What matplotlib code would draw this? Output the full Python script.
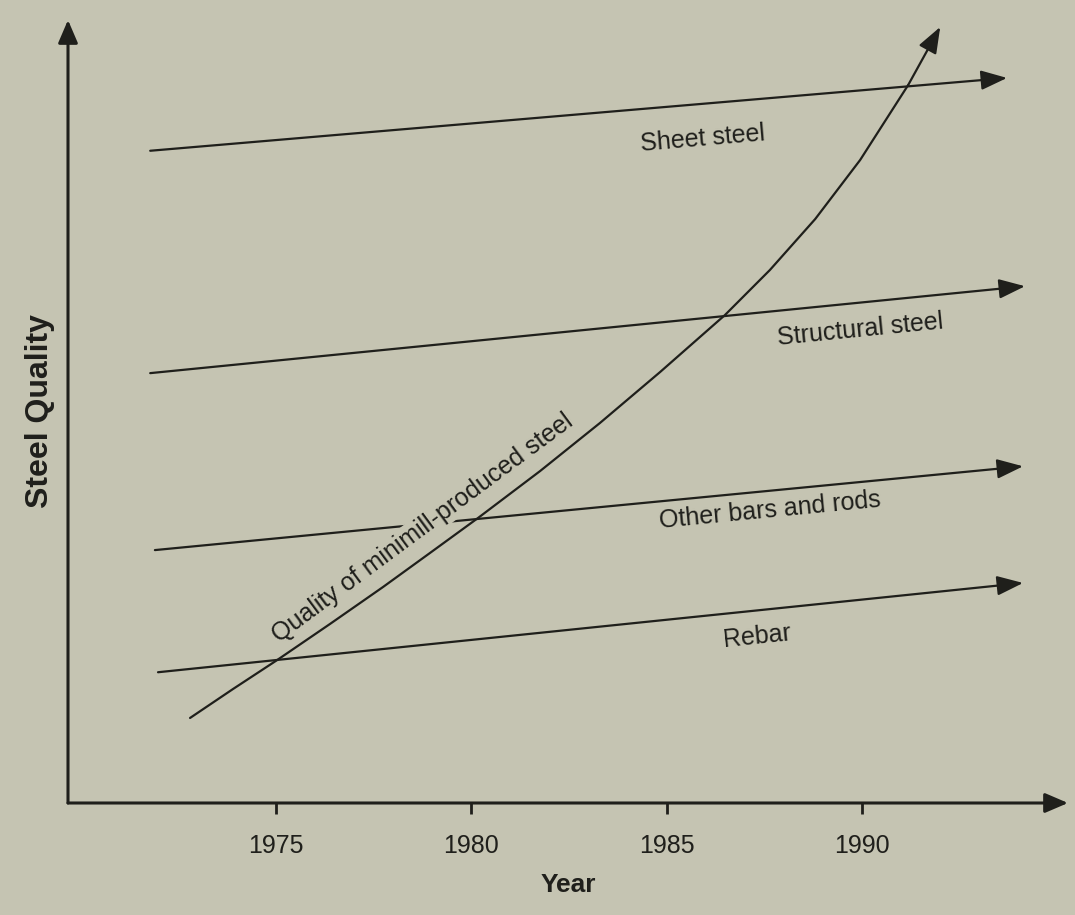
import matplotlib
matplotlib.use("Agg")
import matplotlib.pyplot as plt

# straight trend lines: start/end year and quality (arbitrary units 0-100)
names = ["Sheet steel", "Structural steel", "Other bars and rods", "Rebar"]
start_year = [1971.78, 1971.78, 1971.90, 1971.98]
end_year = [1993.71, 1994.17, 1994.12, 1994.12]
start_q = [83.3, 54.9, 32.3, 16.7]
end_q = [92.6, 66.0, 43.0, 28.1]

# minimill quality curve
curve_year = [1972.80, 1973.90, 1975.03, 1976.38, 1977.74, 1978.94, 1980.17, 1981.76,
              1983.29, 1984.83, 1986.49, 1987.64, 1988.80, 1989.95, 1991.18, 1992.00]
curve_q = [10.86, 14.56, 18.26, 22.86, 27.59, 31.93, 36.40, 42.40,
           48.53, 55.04, 62.32, 68.07, 74.58, 82.12, 91.70, 99.11]
curve_name = "Quality of minimill-produced steel"

tick_years = [1975, 1980, 1985, 1990]

bg = "#c5c4b2"
ink = "#1f1f1b"
plt.rcParams["font.family"] = ["Liberation Sans", "DejaVu Sans"]

fig = plt.figure(figsize=(10.75, 9.15), dpi=100, facecolor=bg)
ax = fig.add_axes([68/1075, 112/915, 1000/1075, 783/915], facecolor=bg)
ax.set_xlim(1969.676, 1995.27)
ax.set_ylim(0, 100)
for s in ax.spines.values():
    s.set_visible(False)

# axes drawn as arrows
arr = dict(arrowstyle="-|>,head_length=0.7,head_width=0.3", lw=2.2, color=ink,
           mutation_scale=20, shrinkA=0, shrinkB=0)
ax.annotate("", xy=(0, 1), xytext=(0, 0), xycoords="axes fraction", arrowprops=arr)
ax.annotate("", xy=(1, 0), xytext=(0, 0), xycoords="axes fraction", arrowprops=arr)

ax.set_xticks(tick_years)
ax.set_yticks([])
ax.tick_params(axis="x", direction="out", length=8, width=2, color=ink,
               labelsize=18, labelcolor=ink, pad=14)
ax.set_xlabel("Year", fontsize=19, fontweight="bold", color=ink, labelpad=11)
ax.set_ylabel("Steel Quality", fontsize=23, fontweight="bold", color=ink, labelpad=9)

line_arr = dict(arrowstyle="-|>,head_length=0.8,head_width=0.3", lw=1.6, color=ink,
                mutation_scale=20, shrinkA=0, shrinkB=0)
for i in range(len(names)):
    z = 2 if names[i] == "Other bars and rods" else 4
    a = ax.annotate("", xy=(end_year[i], end_q[i]), xytext=(start_year[i], start_q[i]),
                    arrowprops=line_arr)
    a.set_zorder(z)

ax.plot(curve_year[:-1], curve_q[:-1], color=ink, lw=1.6, zorder=4,
        solid_capstyle="round", solid_joinstyle="round")
c = ax.annotate("", xy=(curve_year[-1], curve_q[-1]), xytext=(curve_year[-2], curve_q[-2]),
                arrowprops=line_arr)
c.set_zorder(4)

# labels
label_pos = [(1985.93, 84.9, 4.9), (1989.95, 60.4, 5.7), (1987.64, 37.4, 5.5), (1987.31, 21.2, 5.9)]
for name, (x, y, r) in zip(names, label_pos):
    ax.text(x, y, name, fontsize=18, color=ink, ha="center", va="center",
            rotation=r, rotation_mode="anchor", zorder=5)
ax.text(1978.74, 35.1, curve_name, fontsize=18, color=ink, ha="center", va="center",
        rotation=36.5, rotation_mode="anchor", zorder=3,
        bbox=dict(facecolor=bg, edgecolor="none", pad=1))

fig.savefig("out.png", dpi=100, facecolor=bg)
